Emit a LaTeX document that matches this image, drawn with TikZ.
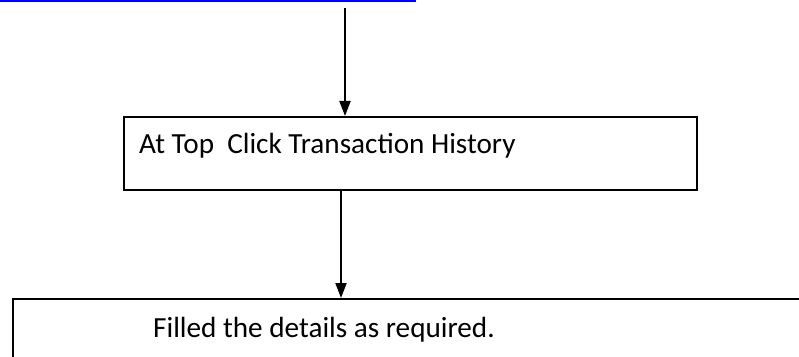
\documentclass[tikz,border=0pt]{standalone}
\usepackage{fontspec}
\setmainfont{Carlito}
\usetikzlibrary{arrows.meta}
\begin{document}
\begin{tikzpicture}[x=1pt,y=1pt,
  box/.style={draw, line width=1.6pt, rectangle, inner sep=0pt},
  arr/.style={line width=2pt, -{Triangle[width=11pt,length=15pt]}},
  lbl/.style={font=\fontsize{29.2}{35}\selectfont, anchor=base west, inner sep=0pt},
  link/.style={draw=blue, line width=2pt}]
\useasboundingbox (0,0) rectangle (799,356);
\clip (0,0) rectangle (799,356);
\fill[white] (0,0) rectangle (799,356);
\coordinate (la) at (0,355);
\coordinate (lb) at (416,355);
\draw[link] (la) -- (lb);
\node[box, minimum width=573pt, minimum height=73pt, anchor=north west] (b1) at (123,240) {};
\node[lbl] (t1) at (139,202) {At Top\ \ Click Transaction History};
\node[box, minimum width=830pt, minimum height=90pt, anchor=north west] (b2) at (12,58) {};
\node[lbl] (t2) at (153,19) {Filled the details as required.};
\coordinate (s1) at (345,348);
\coordinate (s2) at (341,0);
\draw[arr] (s1) -- (s1 |- b1.north);
\draw[arr] (s2 |- b1.south) -- (s2 |- b2.north);
\end{tikzpicture}
\end{document}
